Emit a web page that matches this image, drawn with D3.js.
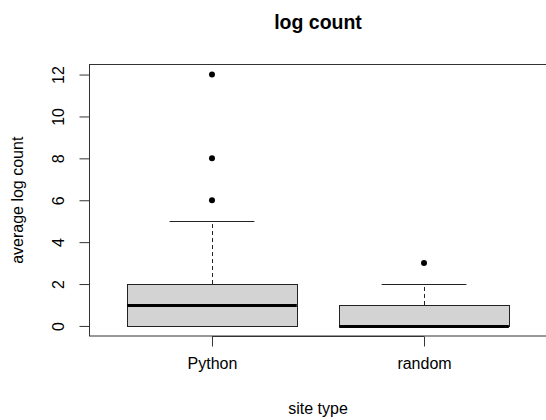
<!DOCTYPE html>
<html>
<head>
<meta charset="utf-8">
<script src="https://cdn.jsdelivr.net/npm/d3@7"></script>
<style>
  body { margin: 0; background: #fff; }
  text { font-family: "Liberation Sans", Arial, sans-serif; fill: #000; }
</style>
</head>
<body>
<div id="chart"></div>
<script>
// box statistics
const groups = ["Python", "random"];
const lowWhisker = [0, 0];
const q1 = [0, 0];
const medians = [1, 0];
const q3 = [2, 1];
const highWhisker = [5, 2];
const outliers = [[6, 8, 12], [3]];
const yTicks = [0, 2, 4, 6, 8, 10, 12];

const width = 546;
const height = 420;

const svg = d3.select("#chart")
  .append("svg")
  .attr("width", width)
  .attr("height", height);

// R style: x from 0.5 to n + 0.5, y from data range, both with 4% padding
const x = d3.scaleLinear()
  .domain([0.42, 2.58])
  .range([89, 547]);

const y = d3.scaleLinear()
  .domain([-0.48, 12.48])
  .range([336, 64.5]);

const boxW = 0.8;
const stroke = "#222";

const data = groups.map((g, i) => ({
  name: g,
  pos: i + 1,
  lo: lowWhisker[i],
  q1: q1[i],
  med: medians[i],
  q3: q3[i],
  hi: highWhisker[i],
  out: outliers[i]
}));

const box = svg.selectAll(".box")
  .data(data)
  .enter().append("g")
  .attr("class", "box");

// whiskers (dashed)
box.append("line")
  .attr("x1", d => Math.round(x(d.pos)) + 0.5)
  .attr("x2", d => Math.round(x(d.pos)) + 0.5)
  .attr("y1", d => y(d.q3))
  .attr("y2", d => y(d.hi))
  .attr("stroke", stroke)
  .attr("stroke-dasharray", "4,3");

box.append("line")
  .attr("x1", d => Math.round(x(d.pos)) + 0.5)
  .attr("x2", d => Math.round(x(d.pos)) + 0.5)
  .attr("y1", d => y(d.lo))
  .attr("y2", d => y(d.q1))
  .attr("stroke", stroke)
  .attr("stroke-dasharray", "4,3");

// whisker caps
["hi", "lo"].forEach(k => {
  box.append("line")
    .attr("x1", d => x(d.pos - boxW / 4))
    .attr("x2", d => x(d.pos + boxW / 4))
    .attr("y1", d => Math.round(y(d[k])) + 0.5)
    .attr("y2", d => Math.round(y(d[k])) + 0.5)
    .attr("stroke", stroke);
});

// boxes
box.append("rect")
  .attr("x", d => Math.round(x(d.pos - boxW / 2)) + 0.5)
  .attr("y", d => Math.round(y(d.q3)) + 0.5)
  .attr("width", d => Math.round(x(d.pos + boxW / 2) - x(d.pos - boxW / 2)))
  .attr("height", d => Math.round(y(d.q1) - y(d.q3)))
  .attr("fill", "#d3d3d3")
  .attr("stroke", stroke);

// medians
box.append("line")
  .attr("x1", d => x(d.pos - boxW / 2))
  .attr("x2", d => x(d.pos + boxW / 2))
  .attr("y1", d => Math.round(y(d.med)) + 0.5)
  .attr("y2", d => Math.round(y(d.med)) + 0.5)
  .attr("stroke", "#000")
  .attr("stroke-width", 3);

// outliers
box.selectAll("circle")
  .data(d => d.out.map(v => ({ pos: d.pos, v: v })))
  .enter().append("circle")
  .attr("cx", d => x(d.pos))
  .attr("cy", d => y(d.v))
  .attr("r", 3)
  .attr("fill", "#000");

// frame
svg.append("rect")
  .attr("x", 89.5)
  .attr("y", 64.5)
  .attr("width", 547 - 89)
  .attr("height", 336 - 64.5)
  .attr("fill", "none")
  .attr("stroke", "#333");

// y axis, labels rotated like R's default las=0
const yAxis = svg.append("g")
  .attr("transform", "translate(89.5,0)")
  .call(d3.axisLeft(y).tickValues(yTicks).tickSize(10));
yAxis.select(".domain").remove();
yAxis.selectAll("line").attr("stroke", "#333");
yAxis.selectAll("text")
  .attr("x", null)
  .attr("font-size", 16)
  .attr("font-family", "Liberation Sans, Arial, sans-serif")
  .attr("text-anchor", "middle")
  .attr("dy", "0.35em")
  .attr("transform", "translate(-31,0) rotate(-90)");

// x axis
const xAxis = svg.append("g")
  .attr("transform", "translate(0,336.5)")
  .call(d3.axisBottom(x).tickValues([1, 2]).tickFormat((d, i) => groups[i]).tickSize(10).tickPadding(11));
xAxis.select(".domain").remove();
xAxis.append("line")
  .attr("x1", x(1)).attr("x2", x(2))
  .attr("stroke", "#333");
xAxis.selectAll("line").attr("stroke", "#333");
xAxis.selectAll("text")
  .attr("font-size", 16)
  .attr("font-family", "Liberation Sans, Arial, sans-serif");

// titles
svg.append("text")
  .attr("x", 318)
  .attr("y", 29)
  .attr("text-anchor", "middle")
  .attr("font-size", 19.5)
  .attr("font-weight", "bold")
  .text("log count");

svg.append("text")
  .attr("x", 318)
  .attr("y", 414)
  .attr("text-anchor", "middle")
  .attr("font-size", 16)
  .text("site type");

svg.append("text")
  .attr("transform", "translate(23," + y(6) + ") rotate(-90)")
  .attr("text-anchor", "middle")
  .attr("font-size", 16)
  .text("average log count");
</script>
</body>
</html>
